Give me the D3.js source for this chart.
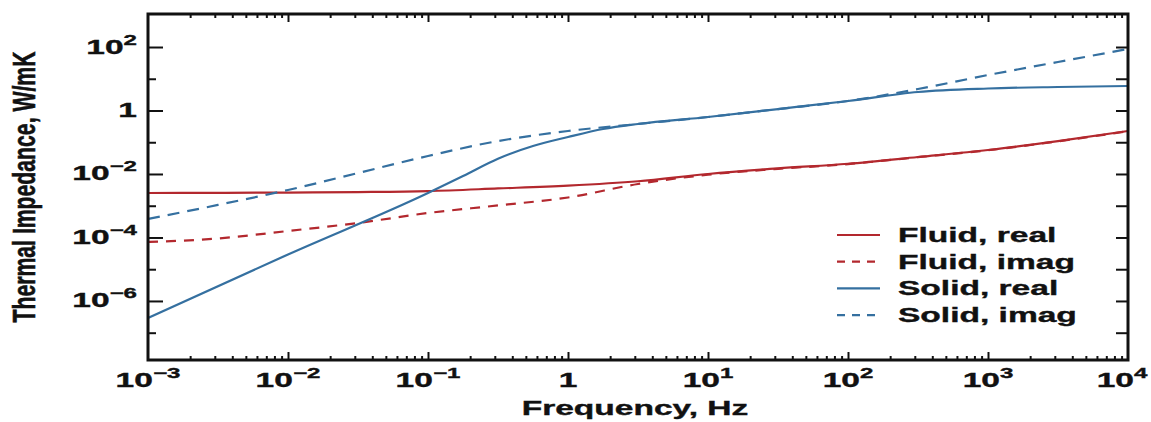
<!DOCTYPE html>
<html lang="en">
<head>
<meta charset="UTF-8">
<title>Thermal Impedance vs Frequency</title>
<script src="https://d3js.org/d3.v7.min.js"></script>
<style>
    body { margin: 0; background: #fff; }
    text { font-family: "Liberation Sans", Arial, Helvetica, sans-serif; font-weight: bold; fill: #111; stroke: #111; stroke-width: 0.35px; }
    .tick line { stroke: #111; stroke-width: 2px; }
</style>
</head>
<body>
<svg id="chart" width="1151" height="422"></svg>
<script>
    // frequencies (Hz), half-decade steps
    const freqs = [0.001, 0.00316, 0.01, 0.0316, 0.1, 0.316, 1, 3.16, 10, 31.6, 100, 316, 1000, 3160, 10000];
    // the solid real curve has a sharper knee, so it gets a few extra points
    const solidRealFreqs = [0.001, 0.01, 0.1, 0.178, 0.316, 0.562, 1, 1.78, 3.16, 10, 31.6, 100, 316, 1000, 3160, 10000];

    // impedance values (W/mK)
    const fluidReal = [2.52e-3, 2.55e-3, 2.6e-3, 2.7e-3, 2.9e-3, 3.5e-3, 4.3e-3, 5.9e-3, 1.0e-2, 1.5e-2, 2.1e-2, 3.43e-2, 5.7e-2, 0.109, 0.226];
    const fluidImag = [7.2e-5, 9.3e-5, 1.6e-4, 2.86e-4, 5.9e-4, 1.02e-3, 1.82e-3, 4.84e-3, 9.5e-3, 1.45e-2, 2.05e-2, 3.4e-2, 5.6e-2, 0.107, 0.222];
    const solidReal = [2.92e-7, 2.92e-5, 2.52e-3, 8.65e-3, 3.03e-2, 7.6e-2, 0.146, 0.261, 0.376, 0.624, 1.11, 1.99, 3.83, 4.93, 5.5, 5.91];
    const solidImag = [3.83e-4, 1.06e-3, 3.13e-3, 1.07e-2, 3.69e-2, 0.109, 0.226, 0.376, 0.624, 1.11, 1.99, 4.75, 13.1, 33.7, 86.5];

    const seriesNames = ["Fluid, real", "Fluid, imag", "Solid, real", "Solid, imag"];

    // tick labels
    const xTickVals = [1e-3, 1e-2, 1e-1, 1, 1e1, 1e2, 1e3, 1e4];
    const xTickBase = ["10", "10", "10", "1", "10", "10", "10", "10"];
    const xTickSup = ["\u22123", "\u22122", "\u22121", "", "1", "2", "3", "4"];
    const yTickVals = [1e2, 1, 1e-2, 1e-4, 1e-6];
    const yTickBase = ["10", "1", "10", "10", "10"];
    const yTickSup = ["2", "", "\u22122", "\u22124", "\u22126"];

    const red = "#b3282e", blue = "#3570a0";
    const styles = [
        { color: red, dash: null },
        { color: red, dash: "10,8" },
        { color: blue, dash: null },
        { color: blue, dash: "12,8" }
    ];
    const seriesData = [
        d3.zip(freqs, fluidReal),
        d3.zip(freqs, fluidImag),
        d3.zip(solidRealFreqs, solidReal),
        d3.zip(freqs, solidImag)
    ];

    const SX = 1.72; // the figure's text is stretched sideways

    const plotL = 148, plotR = 1128, plotT = 14, plotB = 360;

    const svg = d3.select("#chart");

    const x = d3.scaleLog().domain([1e-3, 1e4]).range([plotL, plotR]);
    const y = d3.scaleLog().domain([Math.pow(10, -7.86), Math.pow(10, 3.04)]).range([plotB, plotT]);

    // minor / major tick values
    const xMinor = [], xMajor = [1e-2, 1e-1, 1, 1e1, 1e2, 1e3];
    for (let d = -3; d <= 3; d++) {
        for (let k = 2; k <= 9; k++) xMinor.push(k * Math.pow(10, d));
    }
    const yMajor = [1e-6, 1e-4, 1e-2, 1, 1e2];
    const yMinor = [1e-7, 1e-5, 1e-3, 1e-1, 1e1];

    function addAxis(axis, tx, ty) {
        svg.append("g")
            .attr("transform", `translate(${tx},${ty})`)
            .call(axis.tickFormat(""))
            .call(g => g.select(".domain").remove());
    }

    addAxis(d3.axisBottom(x).tickValues(xMinor).tickSize(-4), 0, plotB);
    addAxis(d3.axisBottom(x).tickValues(xMajor).tickSize(-8), 0, plotB);
    addAxis(d3.axisTop(x).tickValues(xMinor).tickSize(-4), 0, plotT);
    addAxis(d3.axisTop(x).tickValues(xMajor).tickSize(-8), 0, plotT);
    addAxis(d3.axisLeft(y).tickValues(yMajor).tickSize(-15), plotL, 0);
    addAxis(d3.axisLeft(y).tickValues(yMinor).tickSize(-8), plotL, 0);
    addAxis(d3.axisRight(y).tickValues(yMajor.concat(yMinor)).tickSize(-12), plotR, 0);

    // curves
    const plot = svg.append("g");
    plot.append("clipPath").attr("id", "clip")
        .append("rect").attr("x", plotL).attr("y", plotT).attr("width", plotR - plotL).attr("height", plotB - plotT);

    const line = d3.line()
        .x(d => x(d[0]))
        .y(d => y(d[1]))
        .curve(d3.curveMonotoneX);

    seriesData.forEach((pts, i) => {
        plot.append("path")
            .datum(pts)
            .attr("clip-path", "url(#clip)")
            .attr("fill", "none")
            .attr("stroke", styles[i].color)
            .attr("stroke-width", 2.2)
            .attr("stroke-dasharray", styles[i].dash)
            .attr("d", line);
    });

    // frame
    svg.append("rect")
        .attr("x", plotL).attr("y", plotT)
        .attr("width", plotR - plotL).attr("height", plotB - plotT)
        .attr("fill", "none").attr("stroke", "#111").attr("stroke-width", 3);

    function label(px, py, base, sup, anchor) {
        const t = svg.append("text")
            .attr("transform", `translate(${px},${py}) scale(${SX},1)`)
            .attr("text-anchor", anchor)
            .attr("font-size", 19.5);
        t.append("tspan").text(base);
        if (sup) t.append("tspan").attr("dy", -9).attr("font-size", 14).text(sup);
    }

    // last label sits a bit left so it stays inside the window
    xTickVals.forEach((v, i) => label(Math.min(x(v), 1122), 387, xTickBase[i], xTickSup[i], "middle"));
    yTickVals.forEach((v, i) => label(137, y(v) + 6.5, yTickBase[i], yTickSup[i], "end"));

    // axis titles
    svg.append("text")
        .attr("transform", `translate(635,415) scale(${SX},1)`)
        .attr("text-anchor", "middle")
        .attr("font-size", 19.5)
        .text("Frequency, Hz");

    svg.append("text")
        .attr("transform", "translate(35,187) rotate(-90) scale(1,1.7)")
        .attr("text-anchor", "middle")
        .attr("font-size", 18.5)
        .attr("textLength", 271)
        .attr("lengthAdjust", "spacingAndGlyphs")
        .text("Thermal Impedance, W/mK");

    // legend
    const legend = svg.append("g");
    seriesNames.forEach((name, i) => {
        const cy = 235 + i * 26.7;
        legend.append("line")
            .attr("x1", 837).attr("x2", 880)
            .attr("y1", cy).attr("y2", cy)
            .attr("stroke", styles[i].color)
            .attr("stroke-width", 2.2)
            .attr("stroke-dasharray", styles[i].dash ? "8,7" : null);
        legend.append("text")
            .attr("transform", `translate(898,${cy + 7}) scale(${SX},1)`)
            .attr("font-size", 19.5)
            .text(name);
    });
</script>
</body>
</html>
